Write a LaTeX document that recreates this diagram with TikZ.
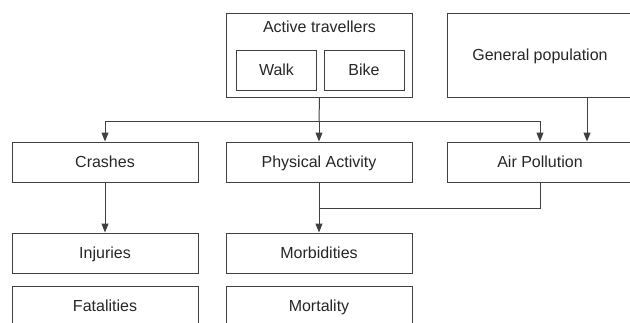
\documentclass[tikz,border=0pt]{standalone}
\usepackage{fontspec}
\setmainfont{Liberation Sans}
\usetikzlibrary{arrows.meta}
\tikzset{
  box/.style={draw=black!75, line width=1pt, minimum width=186pt, minimum height=40pt,
    inner sep=0pt, text height=11.5pt, text depth=0pt,
    font=\fontsize{16}{19}\selectfont, text=black!85},
  smallbox/.style={box, minimum width=80pt},
  boxtext/.style={box, draw=none, minimum width=0pt, minimum height=0pt},
  wire/.style={draw=black!75, line width=1pt},
  link/.style={wire, -{Triangle[length=9pt,width=7pt]}},
}
\begin{document}
\begin{tikzpicture}[x=1pt,y=-1pt]
\useasboundingbox (0,0) rectangle (630,322);
\clip (0,0) rectangle (630,322);
% top row
\node[box, minimum height=84pt] (active) at (319.5,55) {};
\node[boxtext] (activetext) at (319.5,27) {Active travellers};
\node[smallbox] (walk) at (276.5,70) {Walk};
\node[smallbox] (bike) at (364,70) {Bike};
\node[box, minimum width=200pt, minimum height=84pt] (genpop) at (547,55) {};
\node[boxtext] (genpoptext) at (540,55) {General population};
% middle row
\node[box] (crashes) at (105,162) {Crashes};
\node[box] (physact) at (319,162) {Physical Activity};
\node[box, minimum width=200pt] (airpol) at (547,162) {};
\node[boxtext] (airpoltext) at (540,162) {Air Pollution};
% bottom rows
\node[box] (injuries) at (105,253) {Injuries};
\node[box] (morbid) at (319,253) {Morbidities};
\node[box] (fatal) at (105,306) {Fatalities};
\node[box] (mortal) at (319,306) {Mortality};
% connectors
\coordinate (bus) at (319,121);
\coordinate (merge) at (319,208);
\draw[wire] (active.south) -- (bus);
\draw[link] (bus) -| (crashes.north);
\draw[link] (bus) -| (airpoltext |- airpol.north);
\draw[link] (bus) -- (physact.north);
\draw[link] ([xshift=40pt]genpop.south) -- ([xshift=40pt]airpol.north);
\draw[link] (crashes) -- (injuries);
\draw[link] (physact) -- (morbid);
\draw[wire] (airpoltext |- airpol.south) |- (merge);
\end{tikzpicture}
\end{document}
